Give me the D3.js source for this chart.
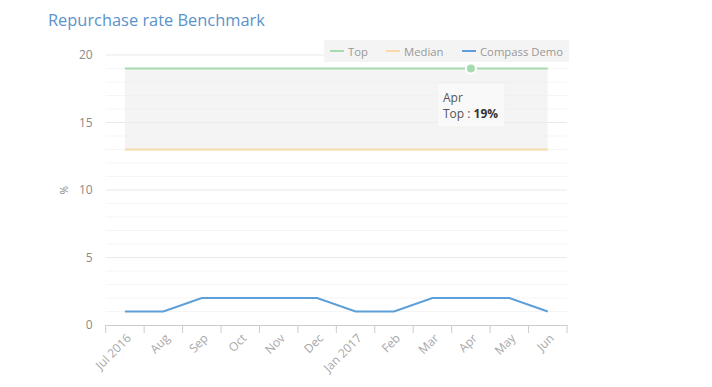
<!DOCTYPE html>
<html>
<head>
<meta charset="utf-8">
<script src="https://cdn.jsdelivr.net/npm/d3@7"></script>
<style>
  body { margin: 0; background: #fff; font-family: "Open Sans", sans-serif; }
</style>
</head>
<body>
<div id="chart"></div>
<script>
var width = 712;
var height = 387;

var months = ["Jul 2016", "Aug", "Sep", "Oct", "Nov", "Dec", "Jan 2017", "Feb", "Mar", "Apr", "May", "Jun"];
var topValues = [19, 19, 19, 19, 19, 19, 19, 19, 19, 19, 19, 19];
var medianValues = [13, 13, 13, 13, 13, 13, 13, 13, 13, 13, 13, 13];
var demoValues = [1, 1, 2, 2, 2, 2, 1, 1, 2, 2, 2, 1];
var yTicks = [0, 5, 10, 15, 20];
var seriesNames = ["Top", "Median", "Compass Demo"];
var seriesColors = ["#a6dbb0", "#f8d9aa", "#5d9fd8"];

var plotLeft = 105.7, plotRight = 567, plotTop = 55, plotBottom = 325;

var svg = d3.select("#chart").append("svg")
    .attr("width", width)
    .attr("height", height);

svg.append("text")
    .attr("x", 48)
    .attr("y", 26)
    .attr("fill", "#5b92cb")
    .style("font-size", "16.4px")
    .text("Repurchase rate Benchmark");

var x = d3.scaleBand()
    .domain(months)
    .range([plotLeft, plotRight]);

var y = d3.scaleLinear()
    .domain([0, 20])
    .range([plotBottom, plotTop]);

function cx(d){ return x(d) + x.bandwidth() / 2; }

// minor grid
svg.append("g").selectAll("line")
    .data(d3.range(1, 21))
    .enter().append("line")
        .attr("x1", plotLeft).attr("x2", plotRight)
        .attr("y1", function(d){ return y(d); })
        .attr("y2", function(d){ return y(d); })
        .attr("stroke", function(d){ return d % 5 == 0 ? "#e9e9e9" : "#f5f5f5"; })
        .attr("stroke-width", 1);

// band between median and top
var area = d3.area()
    .x(function(d, i){ return cx(months[i]); })
    .y0(function(d, i){ return y(medianValues[i]); })
    .y1(function(d){ return y(d); });

svg.append("path")
    .datum(topValues)
    .attr("d", area)
    .attr("fill", "#ececec")
    .attr("fill-opacity", 0.6);

var line = d3.line()
    .x(function(d, i){ return cx(months[i]); })
    .y(function(d){ return y(d); });

[topValues, medianValues, demoValues].forEach(function(vals, k){
    svg.append("path")
        .datum(vals)
        .attr("d", line)
        .attr("fill", "none")
        .attr("stroke", seriesColors[k])
        .attr("stroke-width", 2);
});

// y axis labels
var yAxis = svg.append("g")
    .attr("transform", "translate(" + plotLeft + ",0)")
    .call(d3.axisLeft(y).tickValues(yTicks).tickSize(0).tickPadding(13));
yAxis.select(".domain").remove();
yAxis.selectAll("text")
    .attr("fill", "#8a8a8a")
    .style("font-size", "12px")
    .style("font-family", "Open Sans, sans-serif");

svg.append("text")
    .attr("transform", "translate(68," + y(10) + ") rotate(-90)")
    .attr("text-anchor", "middle")
    .attr("fill", "#888")
    .style("font-size", "10px")
    .text("%");

// x axis
var xAxis = svg.append("g")
    .attr("transform", "translate(0," + plotBottom + ")")
    .call(d3.axisBottom(x).tickSize(0));
xAxis.select(".domain").attr("stroke", "#cccccc");
xAxis.selectAll(".tick line").remove();
xAxis.append("g").selectAll("line")
    .data(d3.range(months.length + 1))
    .enter().append("line")
        .attr("x1", function(d){ return plotLeft + d * x.step(); })
        .attr("x2", function(d){ return plotLeft + d * x.step(); })
        .attr("y1", 0).attr("y2", 8)
        .attr("stroke", "#cccccc");
xAxis.selectAll(".tick text")
    .attr("fill", "#a8a8a8")
    .style("font-size", "12px")
    .style("font-family", "Open Sans, sans-serif")
    .attr("text-anchor", "end")
    .attr("transform", "translate(4,11) rotate(-45)")
    .attr("dy", "0.35em")
    .attr("y", 0).attr("x", 0);

// legend
var legend = svg.append("g");
legend.append("rect")
    .attr("x", 324).attr("y", 40)
    .attr("width", 245).attr("height", 22)
    .attr("fill", "#f4f4f4");
var legendX = [330, 386, 462];
seriesNames.forEach(function(name, k){
    legend.append("line")
        .attr("x1", legendX[k]).attr("x2", legendX[k] + 14)
        .attr("y1", 51).attr("y2", 51)
        .attr("stroke", seriesColors[k])
        .attr("stroke-width", 2);
    legend.append("text")
        .attr("x", legendX[k] + 18)
        .attr("y", 55.5)
        .attr("fill", "#999")
        .style("font-size", "11.3px")
        .text(name);
});

// hover marker and tooltip
var hover = "Apr";
var hi = months.indexOf(hover);
svg.append("circle")
    .attr("cx", cx(hover))
    .attr("cy", y(topValues[hi]))
    .attr("r", 5)
    .attr("fill", seriesColors[0])
    .attr("stroke", "#fff")
    .attr("stroke-width", 2);

var tip = svg.append("g");
tip.append("rect")
    .attr("x", 437).attr("y", 83)
    .attr("width", 68).attr("height", 44)
    .attr("fill", "#f9f9f9")
    .attr("fill-opacity", 0.92)
    .attr("stroke", "#f0f0f0");
tip.append("text")
    .attr("x", 443).attr("y", 102)
    .attr("fill", "#555")
    .style("font-size", "12px")
    .text(hover);
var t2 = tip.append("text")
    .attr("x", 443).attr("y", 118)
    .attr("fill", "#555")
    .style("font-size", "12px");
t2.append("tspan").text("Top : ");
t2.append("tspan").style("font-weight", "bold").attr("fill", "#333").text(topValues[hi] + "%");
</script>
</body>
</html>
